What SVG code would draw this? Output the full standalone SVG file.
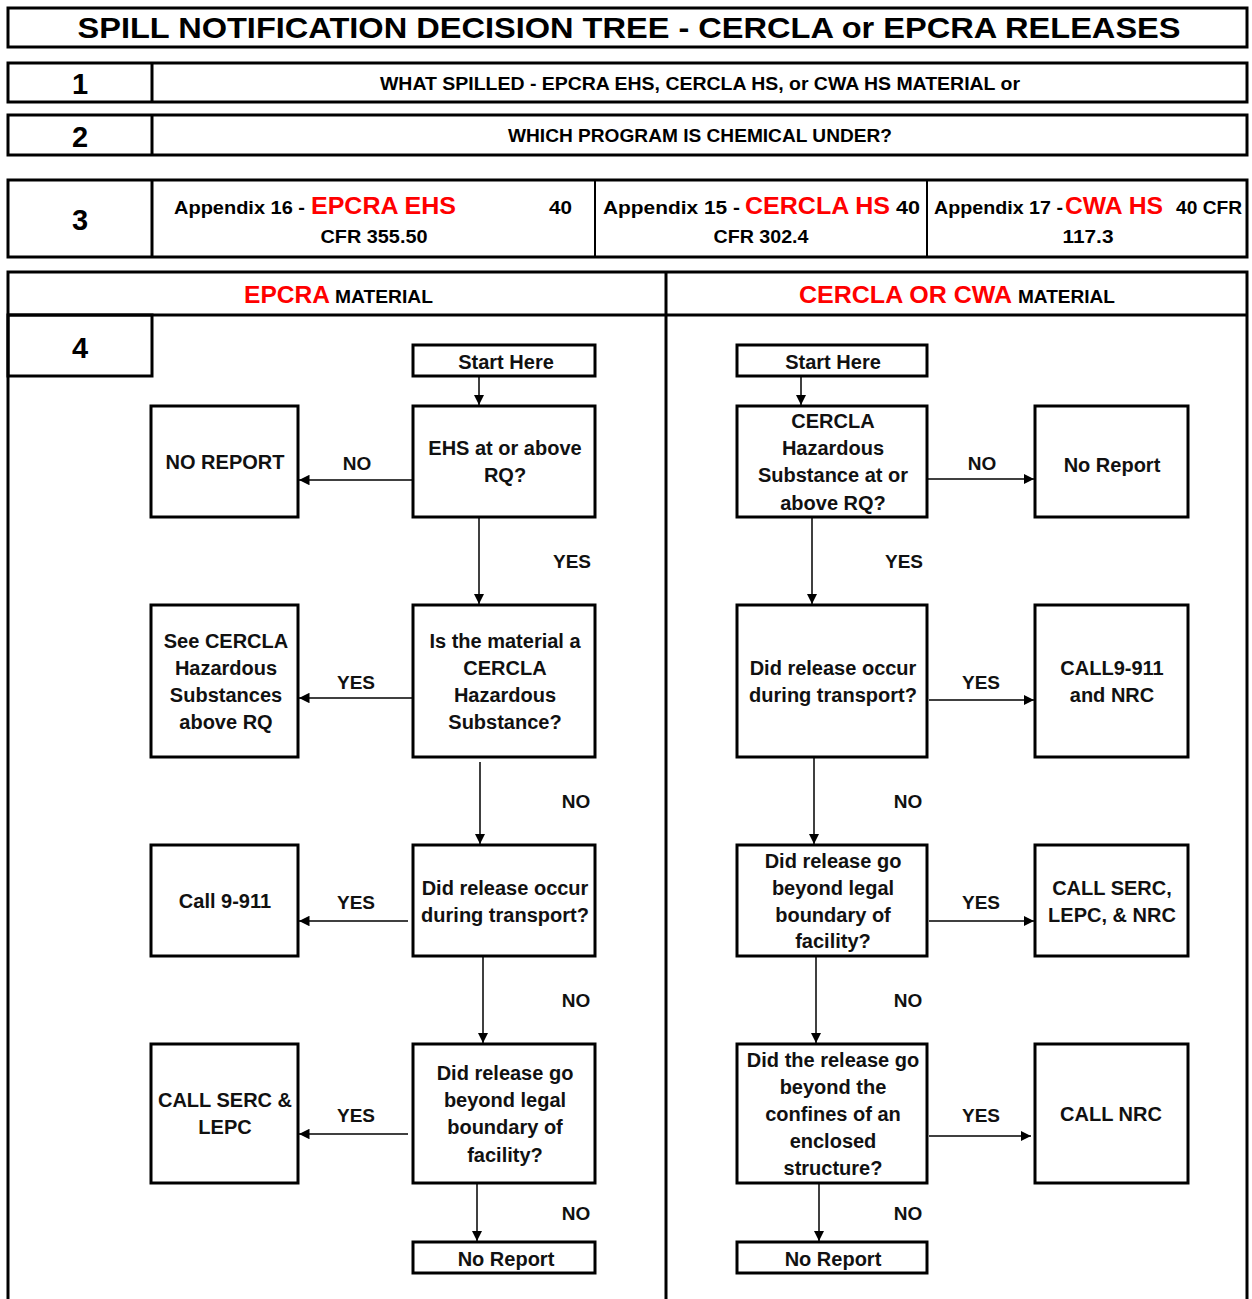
<svg xmlns="http://www.w3.org/2000/svg" width="1252" height="1299" viewBox="0 0 1252 1299">
<style>
.frame{fill:#fff;stroke:#000;stroke-width:3}
.box{fill:#fff;stroke:#000;stroke-width:3}
.t{font-family:"Liberation Sans",Arial,sans-serif;font-weight:bold;fill:#000;}
.bt{font-family:"Liberation Sans",Arial,sans-serif;font-weight:bold;font-size:20px;fill:#111;text-anchor:middle}
.lbl{font-family:"Liberation Sans",Arial,sans-serif;font-weight:bold;font-size:19px;fill:#111;text-anchor:middle}
.red{fill:#ff0000}
.num{font-family:"Liberation Sans",Arial,sans-serif;font-weight:bold;font-size:29px;text-anchor:middle}
.c{stroke:#000;stroke-width:1.5;fill:none;marker-end:url(#ah)}
</style>
<defs>
<marker id="ah" viewBox="0 0 10 10" refX="10" refY="5" markerWidth="7" markerHeight="7" orient="auto" markerUnits="strokeWidth">
<path d="M0,0 L10,5 L0,10 z" fill="#000"/>
</marker>
</defs>
<rect width="1252" height="1299" fill="#fff"/>

<g id="title">
<rect class="frame" x="8" y="8" width="1239" height="39"/>
<text class="t" x="629" y="38" font-size="30" text-anchor="middle" textLength="1103" lengthAdjust="spacingAndGlyphs">SPILL NOTIFICATION DECISION TREE - CERCLA or EPCRA RELEASES</text>
</g>

<g id="row1">
<rect class="frame" x="8" y="63" width="1239" height="39"/>
<line x1="152" y1="63" x2="152" y2="102" stroke="#000" stroke-width="3"/>
<text class="num" x="80" y="94">1</text>
<text class="t" x="700" y="90" font-size="19" text-anchor="middle" textLength="640" lengthAdjust="spacingAndGlyphs">WHAT SPILLED - EPCRA EHS, CERCLA HS, or CWA HS MATERIAL or</text>
</g>

<g id="row2">
<rect class="frame" x="8" y="115" width="1239" height="40"/>
<line x1="152" y1="115" x2="152" y2="155" stroke="#000" stroke-width="3"/>
<text class="num" x="80" y="147">2</text>
<text class="t" x="700" y="142" font-size="19" text-anchor="middle" textLength="384" lengthAdjust="spacingAndGlyphs">WHICH PROGRAM IS CHEMICAL UNDER?</text>
</g>

<g id="row3">
<rect class="frame" x="8" y="180" width="1239" height="77"/>
<line x1="152" y1="180" x2="152" y2="257" stroke="#000" stroke-width="3"/>
<line x1="595" y1="180" x2="595" y2="257" stroke="#000" stroke-width="2"/>
<line x1="927" y1="180" x2="927" y2="257" stroke="#000" stroke-width="2"/>
<text class="num" x="80" y="230">3</text>
<text class="t" x="174" y="214" font-size="19" textLength="131" lengthAdjust="spacingAndGlyphs">Appendix 16 -</text>
<text class="t red" x="311" y="214" font-size="24" textLength="145" lengthAdjust="spacingAndGlyphs">EPCRA EHS</text>
<text class="t" x="549" y="214" font-size="19" textLength="23" lengthAdjust="spacingAndGlyphs">40</text>
<text class="t" x="374" y="243" font-size="19" text-anchor="middle" textLength="107" lengthAdjust="spacingAndGlyphs">CFR 355.50</text>
<text class="t" x="603" y="214" font-size="19" textLength="137" lengthAdjust="spacingAndGlyphs">Appendix 15  -</text>
<text class="t red" x="745" y="214" font-size="24" textLength="145" lengthAdjust="spacingAndGlyphs">CERCLA HS</text>
<text class="t" x="896" y="214" font-size="19" textLength="24" lengthAdjust="spacingAndGlyphs">40</text>
<text class="t" x="761" y="243" font-size="19" text-anchor="middle" textLength="95" lengthAdjust="spacingAndGlyphs">CFR 302.4</text>
<text class="t" x="934" y="214" font-size="19" textLength="129" lengthAdjust="spacingAndGlyphs">Appendix 17 -</text>
<text class="t red" x="1065" y="214" font-size="24" textLength="98" lengthAdjust="spacingAndGlyphs">CWA HS</text>
<text class="t" x="1176" y="214" font-size="19" textLength="66" lengthAdjust="spacingAndGlyphs">40 CFR</text>
<text class="t" x="1088" y="243" font-size="19" text-anchor="middle" textLength="51" lengthAdjust="spacingAndGlyphs">117.3</text>
</g>

<g id="section4">
<path d="M8,1299 V272 H1247 V1299" fill="none" stroke="#000" stroke-width="3"/>
<line x1="8" y1="315" x2="1247" y2="315" stroke="#000" stroke-width="3"/>
<line x1="666" y1="272" x2="666" y2="1299" stroke="#000" stroke-width="3"/>
<rect x="8" y="315" width="144" height="61" fill="none" stroke="#000" stroke-width="3"/>
<text class="num" x="80" y="358">4</text>
<text class="t red" x="244" y="303" font-size="24" textLength="86" lengthAdjust="spacingAndGlyphs">EPCRA</text>
<text class="t" x="335" y="303" font-size="19" textLength="98" lengthAdjust="spacingAndGlyphs">MATERIAL</text>
<text class="t red" x="799" y="303" font-size="24" textLength="213" lengthAdjust="spacingAndGlyphs">CERCLA OR CWA</text>
<text class="t" x="1018" y="303" font-size="19" textLength="97" lengthAdjust="spacingAndGlyphs">MATERIAL</text>
</g>

<!-- Left column nodes -->
<g id="L-start"><rect class="box" x="413" y="345" width="182" height="31"/><text class="bt" x="506" y="369">Start Here</text></g>
<g id="L-ehs"><rect class="box" x="413" y="406" width="182" height="111"/><text class="bt" x="505" y="455">EHS at or above</text><text class="bt" x="505" y="482">RQ?</text></g>
<g id="L-noreport1"><rect class="box" x="151" y="406" width="147" height="111"/><text class="bt" x="225" y="469" font-size="19">NO REPORT</text></g>
<g id="L-cercla"><rect class="box" x="413" y="605" width="182" height="152"/><text class="bt" x="505" y="648">Is the material a</text><text class="bt" x="505" y="675">CERCLA</text><text class="bt" x="505" y="702">Hazardous</text><text class="bt" x="505" y="729">Substance?</text></g>
<g id="L-see"><rect class="box" x="151" y="605" width="147" height="152"/><text class="bt" x="226" y="648">See CERCLA</text><text class="bt" x="226" y="675">Hazardous</text><text class="bt" x="226" y="702">Substances</text><text class="bt" x="226" y="729">above RQ</text></g>
<g id="L-transport"><rect class="box" x="413" y="845" width="182" height="111"/><text class="bt" x="505" y="895">Did release occur</text><text class="bt" x="505" y="922">during transport?</text></g>
<g id="L-call911"><rect class="box" x="151" y="845" width="147" height="111"/><text class="bt" x="225" y="908">Call 9-911</text></g>
<g id="L-boundary"><rect class="box" x="413" y="1044" width="182" height="139"/><text class="bt" x="505" y="1080">Did release go</text><text class="bt" x="505" y="1107">beyond legal</text><text class="bt" x="505" y="1134">boundary of</text><text class="bt" x="505" y="1162">facility?</text></g>
<g id="L-serc"><rect class="box" x="151" y="1044" width="147" height="139"/><text class="bt" x="225" y="1107" font-size="19.5">CALL SERC &amp;</text><text class="bt" x="225" y="1134" font-size="19.5">LEPC</text></g>
<g id="L-noreport2"><rect class="box" x="413" y="1242" width="182" height="31"/><text class="bt" x="506" y="1266">No Report</text></g>

<!-- Right column nodes -->
<g id="R-start"><rect class="box" x="737" y="345" width="190" height="31"/><text class="bt" x="833" y="369">Start Here</text></g>
<g id="R-cercla"><rect class="box" x="737" y="406" width="190" height="111"/><text class="bt" x="833" y="428">CERCLA</text><text class="bt" x="833" y="455">Hazardous</text><text class="bt" x="833" y="482">Substance at or</text><text class="bt" x="833" y="510">above RQ?</text></g>
<g id="R-noreport1"><rect class="box" x="1035" y="406" width="153" height="111"/><text class="bt" x="1112" y="472" font-size="24">No Report</text></g>
<g id="R-transport"><rect class="box" x="737" y="605" width="190" height="152"/><text class="bt" x="833" y="675">Did release occur</text><text class="bt" x="833" y="702">during transport?</text></g>
<g id="R-call911"><rect class="box" x="1035" y="605" width="153" height="152"/><text class="bt" x="1112" y="675">CALL9-911</text><text class="bt" x="1112" y="702">and NRC</text></g>
<g id="R-boundary"><rect class="box" x="737" y="845" width="190" height="111"/><text class="bt" x="833" y="868">Did release go</text><text class="bt" x="833" y="895">beyond legal</text><text class="bt" x="833" y="922">boundary of</text><text class="bt" x="833" y="948">facility?</text></g>
<g id="R-serc"><rect class="box" x="1035" y="845" width="153" height="111"/><text class="bt" x="1112" y="895" font-size="19.5">CALL SERC,</text><text class="bt" x="1112" y="922" font-size="19.5">LEPC, &amp; NRC</text></g>
<g id="R-enclosed"><rect class="box" x="737" y="1044" width="190" height="139"/><text class="bt" x="833" y="1067">Did the release go</text><text class="bt" x="833" y="1094">beyond the</text><text class="bt" x="833" y="1121">confines of an</text><text class="bt" x="833" y="1148">enclosed</text><text class="bt" x="833" y="1175">structure?</text></g>
<g id="R-nrc"><rect class="box" x="1035" y="1044" width="153" height="139"/><text class="bt" x="1111" y="1121" font-size="19.5">CALL NRC</text></g>
<g id="R-noreport2"><rect class="box" x="737" y="1242" width="190" height="31"/><text class="bt" x="833" y="1266">No Report</text></g>

<g id="connectors">
<line class="c" x1="479" y1="377" x2="479" y2="405"/>
<line class="c" x1="413" y1="480" x2="299" y2="480"/>
<line class="c" x1="479" y1="518" x2="479" y2="604"/>
<line class="c" x1="413" y1="698" x2="299" y2="698"/>
<line class="c" x1="480" y1="762" x2="480" y2="844"/>
<line class="c" x1="408" y1="921" x2="299" y2="921"/>
<line class="c" x1="483" y1="957" x2="483" y2="1043"/>
<line class="c" x1="408" y1="1134" x2="299" y2="1134"/>
<line class="c" x1="477" y1="1184" x2="477" y2="1241"/>

<line class="c" x1="801" y1="377" x2="801" y2="405"/>
<line class="c" x1="928" y1="479" x2="1034" y2="479"/>
<line class="c" x1="812" y1="518" x2="812" y2="604"/>
<line class="c" x1="929" y1="700" x2="1034" y2="700"/>
<line class="c" x1="814" y1="758" x2="814" y2="844"/>
<line class="c" x1="929" y1="921" x2="1034" y2="921"/>
<line class="c" x1="816" y1="957" x2="816" y2="1043"/>
<line class="c" x1="929" y1="1136" x2="1031" y2="1136"/>
<line class="c" x1="819" y1="1184" x2="819" y2="1241"/>

<text class="lbl" x="357" y="470">NO</text>
<text class="lbl" x="572" y="568">YES</text>
<text class="lbl" x="356" y="689">YES</text>
<text class="lbl" x="576" y="808">NO</text>
<text class="lbl" x="356" y="909">YES</text>
<text class="lbl" x="576" y="1007">NO</text>
<text class="lbl" x="356" y="1122">YES</text>
<text class="lbl" x="576" y="1220">NO</text>

<text class="lbl" x="982" y="470">NO</text>
<text class="lbl" x="904" y="568">YES</text>
<text class="lbl" x="981" y="689">YES</text>
<text class="lbl" x="908" y="808">NO</text>
<text class="lbl" x="981" y="909">YES</text>
<text class="lbl" x="908" y="1007">NO</text>
<text class="lbl" x="981" y="1122">YES</text>
<text class="lbl" x="908" y="1220">NO</text>
</g>
</svg>
